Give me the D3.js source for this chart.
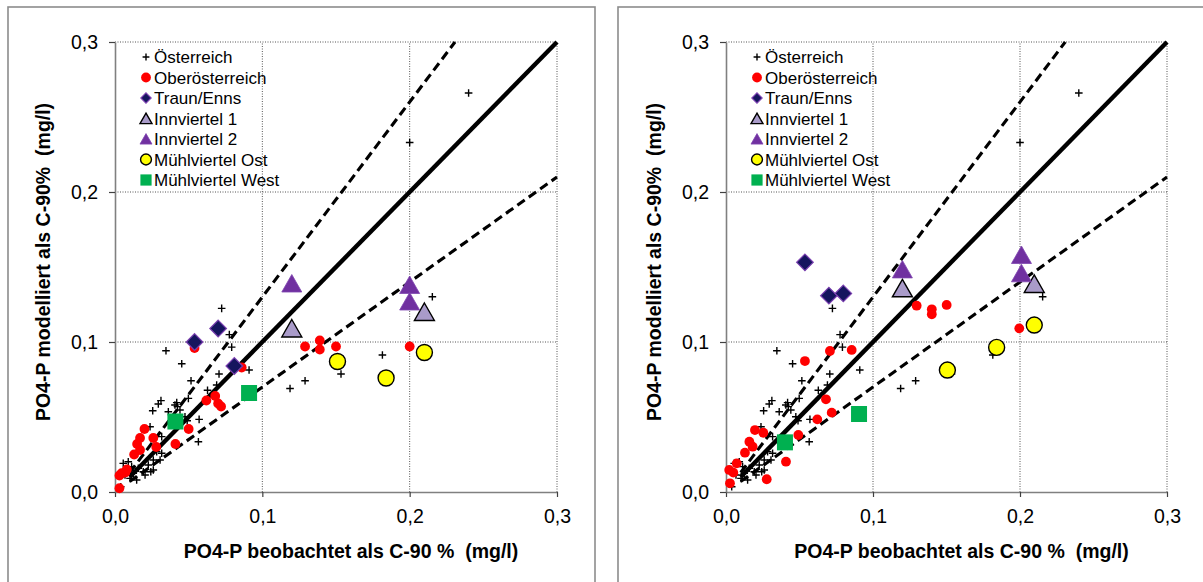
<!DOCTYPE html>
<html>
<head>
<meta charset="utf-8">
<script src="https://cdn.jsdelivr.net/npm/d3@7"></script>
<style>
  html, body { margin: 0; padding: 0; background: #fff; }
  svg { display: block; }
  text { font-family: "Liberation Sans", Arial, sans-serif; fill: #000; white-space: pre; }
</style>
</head>
<body>
<svg id="chart" width="1203" height="582"></svg>
<script>
// ---- data -------------------------------------------------------------
const tickValues = [0, 0.1, 0.2, 0.3];
const tickLabels = ["0,0", "0,1", "0,2", "0,3"];
const xTitle = "PO4-P beobachtet als C-90 %  (mg/l)";
const yTitle = "PO4-P modelliert als C-90%  (mg/l)";
const seriesNames = ["Österreich", "Oberösterreich", "Traun/Enns", "Innviertel 1",
                     "Innviertel 2", "Mühlviertel Ost", "Mühlviertel West"];
// slopes of the 1:1 line and the ±30 % band
const ratioLines = [1.3, 1.0, 0.7];

// Austrian reference stations (same in both panels): [observed, modelled]
const oesterreich = [
  [0.0724, 0.1224], [0.0346, 0.0942], [0.0453, 0.0855], [0.0776, 0.1049], [0.0792, 0.0966],
  [0.0910, 0.0813], [0.0706, 0.0787], [0.0516, 0.0742], [0.0628, 0.0678], [0.1188, 0.0690],
  [0.1290, 0.0742], [0.1534, 0.0787], [0.1815, 0.0913], [0.2154, 0.1302], [0.2000, 0.2330],
  [0.2400, 0.2660], [0.0690, 0.0713], [0.0498, 0.0624], [0.0419, 0.0596], [0.0312, 0.0609],
  [0.0294, 0.0587], [0.0256, 0.0542], [0.0362, 0.0535], [0.0441, 0.0547], [0.0475, 0.0502],
  [0.0566, 0.0335], [0.0490, 0.0475], [0.0238, 0.0435], [0.0317, 0.0369], [0.0317, 0.0258],
  [0.0260, 0.0213], [0.0226, 0.0180], [0.0260, 0.0147], [0.0192, 0.0135], [0.0158, 0.0158],
  [0.0113, 0.0169], [0.0056, 0.0191], [0.0090, 0.0202], [0.0124, 0.0125], [0.0147, 0.0080],
  [0.0204, 0.0113], [0.0102, 0.0091], [0.0068, 0.0113], [0.0306, 0.0213], [0.0283, 0.0269],
  [0.0407, 0.0580], [0.0571, 0.0484], [0.0039, 0.0035], [0.0243, 0.0135], [0.0424, 0.0569]
];

// Oberösterreich
const ooeA = [
  [0.129, 0.097], [0.139, 0.101], [0.139, 0.095], [0.150, 0.097], [0.200, 0.097],
  [0.054, 0.096], [0.086, 0.083], [0.062, 0.061], [0.068, 0.064], [0.070, 0.059],
  [0.072, 0.057], [0.050, 0.042], [0.041, 0.032], [0.020, 0.042], [0.026, 0.036],
  [0.017, 0.036], [0.015, 0.032], [0.028, 0.030], [0.013, 0.025], [0.017, 0.028],
  [0.008, 0.015], [0.0045, 0.0125], [0.003, 0.011], [0.007, 0.013], [0.003, 0.0025]
];
const ooeB = [
  [0.1297, 0.1242], [0.140, 0.1218], [0.140, 0.1185], [0.1501, 0.1247], [0.1995, 0.1091],
  [0.0537, 0.0873], [0.0707, 0.0940], [0.0855, 0.0947], [0.068, 0.0618], [0.0719, 0.0529],
  [0.0621, 0.0484], [0.0492, 0.0380], [0.0408, 0.0202], [0.0277, 0.0085], [0.0197, 0.0413],
  [0.0254, 0.0395], [0.0159, 0.0335], [0.0181, 0.0302], [0.0129, 0.0262], [0.0073, 0.0191],
  [0.0022, 0.0147], [0.0050, 0.0129], [0.0027, 0.0058]
];

const traunEnnsA = [[0.054, 0.100], [0.070, 0.109], [0.081, 0.084]];
const traunEnnsB = [[0.0537, 0.1531], [0.070, 0.1309], [0.0798, 0.1324]];

const innviertel1A = [[0.120, 0.109], [0.210, 0.120]];
const innviertel1B = [[0.120, 0.1358], [0.2097, 0.1387]];

const innviertel2A = [[0.120, 0.139], [0.200, 0.138], [0.200, 0.127]];
const innviertel2B = [[0.120, 0.1484], [0.201, 0.158], [0.201, 0.1458]];

const muehlOstA = [[0.151, 0.087], [0.184, 0.076], [0.210, 0.093]];
const muehlOstB = [[0.1506, 0.0813], [0.1841, 0.0964], [0.2097, 0.1113]];

const muehlWestA = [[0.041, 0.047], [0.091, 0.066]];
const muehlWestB = [[0.0401, 0.0331], [0.0905, 0.0520]];

// ---- drawing ----------------------------------------------------------
const svg = d3.select("#chart");
const FONT_TICK = 19.5, FONT_TITLE = 19.5, FONT_LEGEND = 17;

// marker painters: (selection, size scale)
const markers = {
  cross: (g, k) => g.append("path")
      .attr("d", `M${-3.8*k},0H${3.8*k}M0,${-3.8*k}V${3.8*k}`)
      .attr("stroke", "#000").attr("stroke-width", 1.4).attr("fill", "none"),
  red: (g, k) => g.append("circle").attr("r", 4.9 * k).attr("fill", "#ff0000"),
  diamond: (g, k) => g.append("path")
      .attr("d", `M0,${-8.3*k}L${8.3*k},0L0,${8.3*k}L${-8.3*k},0Z`)
      .attr("fill", "#15155e").attr("stroke", "#7a3fb0").attr("stroke-width", 1.2),
  tri1: (g, k) => g.append("path")
      .attr("d", `M0,${-9*k}L${10*k},${8.5*k}L${-10*k},${8.5*k}Z`)
      .attr("fill", "#a99bc9").attr("stroke", "#000").attr("stroke-width", 1.4),
  tri2: (g, k) => g.append("path")
      .attr("d", `M0,${-9*k}L${10*k},${8.5*k}L${-10*k},${8.5*k}Z`)
      .attr("fill", "#7030a0").attr("stroke", "#7f45b0").attr("stroke-width", 0.8),
  yellow: (g, k) => g.append("circle").attr("r", 8 * k)
      .attr("fill", "#ffff00").attr("stroke", "#000").attr("stroke-width", 1.4),
  green: (g, k) => g.append("rect")
      .attr("x", -8 * k).attr("y", -8 * k).attr("width", 16 * k).attr("height", 16 * k)
      .attr("fill", "#00b050")
};
const markerKeys = ["cross", "red", "diamond", "tri1", "tri2", "yellow", "green"];
const legendScale = [0.9, 1, 0.62, 0.6, 0.6, 0.68, 0.7];

function drawPanel(frameX, xRange, datasets) {
  const x = d3.scaleLinear().domain([0, 0.3]).range(xRange);
  const y = d3.scaleLinear().domain([0, 0.3]).range([492, 42]);
  const g = svg.append("g");

  // panel frame
  g.append("rect").attr("x", frameX).attr("y", 7).attr("width", 587).attr("height", 620)
    .attr("fill", "none").attr("stroke", "#8c8c8c").attr("stroke-width", 1.6);

  // dotted grid
  const grid = g.append("g").attr("stroke", "#555").attr("stroke-width", 1)
    .attr("stroke-dasharray", "1,1.5");
  tickValues.slice(1).forEach(v => {
    grid.append("line").attr("x1", x(0)).attr("x2", x(0.3)).attr("y1", y(v)).attr("y2", y(v));
    grid.append("line").attr("x1", x(v)).attr("x2", x(v)).attr("y1", y(0)).attr("y2", y(0.3));
  });

  // axes
  const xAxis = d3.axisBottom(x).tickValues(tickValues).tickFormat((d, i) => tickLabels[i])
    .tickSizeInner(5).tickSizeOuter(0).tickPadding(12);
  const yAxis = d3.axisLeft(y).tickValues(tickValues).tickFormat((d, i) => tickLabels[i])
    .tickSizeInner(6).tickSizeOuter(0).tickPadding(11);
  [g.append("g").attr("transform", `translate(0,${y(0)})`).call(xAxis),
   g.append("g").attr("transform", `translate(${x(0)},0)`).call(yAxis)].forEach(a => {
    a.select(".domain").attr("stroke", "#808080").attr("stroke-width", 1.6);
    a.selectAll(".tick line").attr("stroke", "#404040").attr("stroke-width", 1.2);
    a.selectAll(".tick text").attr("font-size", FONT_TICK)
      .attr("font-family", "'Liberation Sans', Arial, sans-serif").attr("fill", "#000");
  });

  // axis titles
  g.append("text").attr("x", (xRange[0] + xRange[1]) / 2 + 15).attr("y", 558)
    .attr("text-anchor", "middle").attr("font-size", FONT_TITLE).attr("font-weight", "bold")
    .text(xTitle);
  g.append("text")
    .attr("transform", `translate(${xRange[0] - 65},262) rotate(-90)`)
    .attr("text-anchor", "middle").attr("font-size", FONT_TITLE).attr("font-weight", "bold")
    .text(yTitle);

  // ratio lines
  const line = d3.line().x(d => x(d[0])).y(d => y(d[1]));
  ratioLines.forEach(s => {
    const xEnd = Math.min(0.3, 0.3 / s);
    g.append("path").datum([[0.01, 0.01 * s], [xEnd, xEnd * s]]).attr("d", line)
      .attr("fill", "none").attr("stroke", "#000")
      .attr("stroke-width", s === 1 ? 4.4 : 3.1)
      .attr("stroke-dasharray", s === 1 ? null : "9,5");
  });

  // data points
  datasets.forEach((data, i) => {
    const sg = g.append("g");
    data.forEach(d => {
      const m = sg.append("g").attr("transform", `translate(${x(d[0])},${y(d[1])})`);
      markers[markerKeys[i]](m, 1);
    });
  });

  // legend
  const lg = g.append("g");
  seriesNames.forEach((name, i) => {
    const ly = 57 + i * 20.5;
    const m = lg.append("g").attr("transform", `translate(${x(0) + 31},${ly})`);
    markers[markerKeys[i]](m, legendScale[i]);
    lg.append("text").attr("x", x(0) + 39).attr("y", ly).attr("dy", "0.36em")
      .attr("font-size", FONT_LEGEND).text(name);
  });
}

drawPanel(8, [115, 557],
  [oesterreich, ooeA, traunEnnsA, innviertel1A, innviertel2A, muehlOstA, muehlWestA]);
drawPanel(618, [726, 1167],
  [oesterreich, ooeB, traunEnnsB, innviertel1B, innviertel2B, muehlOstB, muehlWestB]);
</script>
</body>
</html>
